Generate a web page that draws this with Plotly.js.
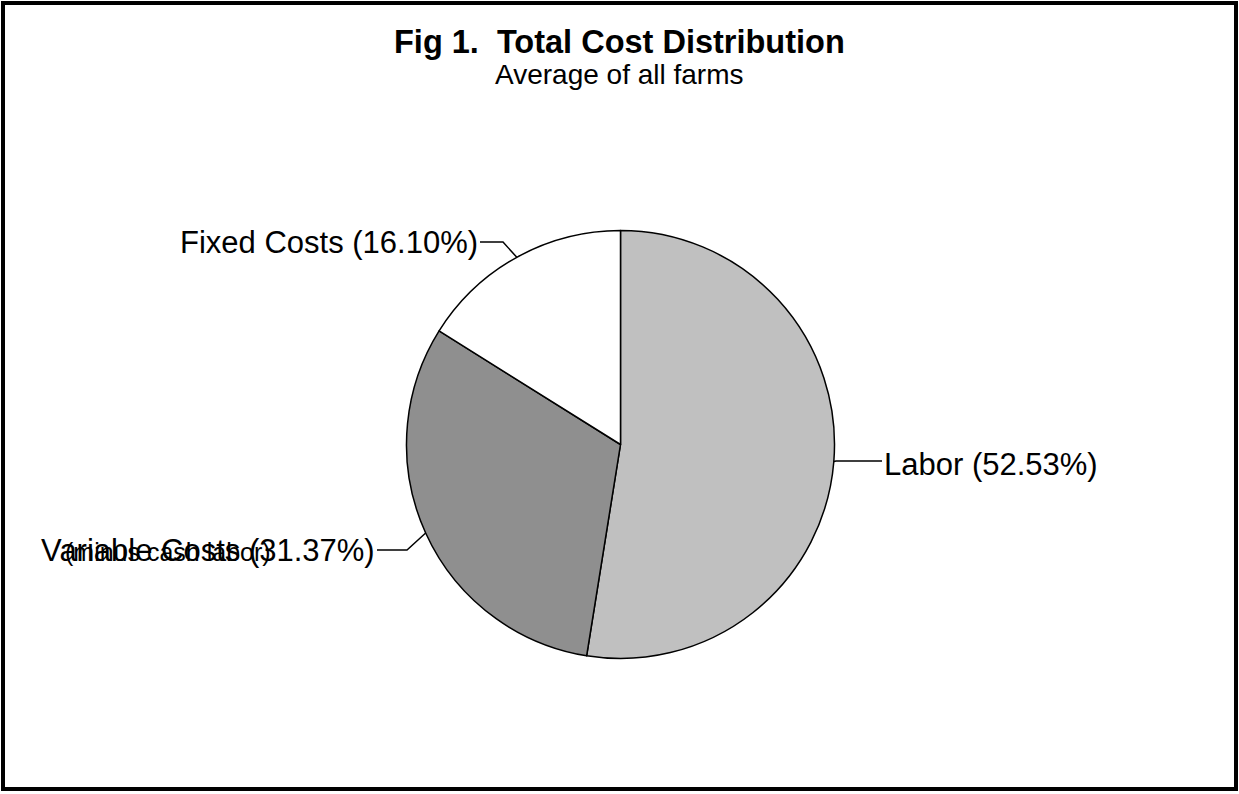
<!DOCTYPE html>
<html>
<head>
<meta charset="utf-8">
<script src="https://cdn.plot.ly/plotly-3.0.1.min.js"></script>
<style>html,body{margin:0;padding:0;background:#fff;}#chart{width:1239px;height:794px;}</style>
</head>
<body>
<div id="chart"></div>
<script>
// ---- data ----
const categories = ['Labor', 'Variable Costs', 'Fixed Costs'];
const values = [52.53, 31.37, 16.10];
const extraNote = '(minus cash labor)';
const titleText = 'Fig 1.&nbsp;&nbsp;Total Cost Distribution';
const subtitleText = 'Average of all farms';

// ---- styles / layout ----
const sliceColors = ['#C0C0C0', '#8F8F8F', '#FFFFFF'];
const W = 1239, H = 794;
const cx = 620.5, cy = 444.5, R = 214;
const FONT = 'Arial, "Liberation Sans", sans-serif';
// label placement: anchor side, label anchor point, elbow point of leader
const labelLayout = [
  {xanchor: 'left',  lx: 882, ly: 464, ex: 836, ey: 461, endx: 882, endy: 461},
  {xanchor: 'right', lx: 377, ly: 550, ex: 407, ey: 550, endx: 377, endy: 550},
  {xanchor: 'right', lx: 480, ly: 243, ex: 503, ey: 242, endx: 480, endy: 242}
];

const px = x => x / W;
const py = y => 1 - y / H;

const total = values.reduce((a, b) => a + b, 0);
const annotations = [];
const shapes = [];
let cum = 0;
values.forEach((v, i) => {
  const mid = (cum + v / 2) / total * 2 * Math.PI;
  cum += v;
  const x0 = cx + R * Math.sin(mid);
  const y0 = cy - R * Math.cos(mid);
  const L = labelLayout[i];
  shapes.push({
    type: 'path', xref: 'paper', yref: 'paper',
    path: `M ${px(x0)},${py(y0)} L ${px(L.ex)},${py(L.ey)} L ${px(L.endx)},${py(L.endy)}`,
    line: {color: '#000', width: 1.5}
  });
  annotations.push({
    xref: 'paper', yref: 'paper', x: px(L.lx), y: py(L.ly),
    xanchor: L.xanchor, yanchor: 'middle', showarrow: false,
    text: `${categories[i]} (${v.toFixed(2)}%)`,
    font: {family: FONT, size: 31, color: '#000'}
  });
});
// overlapping second line of the variable-cost label, as in the original
annotations.push({
  xref: 'paper', yref: 'paper', x: px(63), y: py(552),
  xanchor: 'left', yanchor: 'middle', showarrow: false,
  text: extraNote, font: {family: FONT, size: 25, color: '#000'}
});
annotations.push({
  xref: 'paper', yref: 'paper', x: 0.5, y: py(42),
  xanchor: 'center', yanchor: 'middle', showarrow: false,
  text: '<b>' + titleText + '</b>', font: {family: FONT, size: 32.5, color: '#000'}
});
annotations.push({
  xref: 'paper', yref: 'paper', x: 0.5, y: py(75),
  xanchor: 'center', yanchor: 'middle', showarrow: false,
  text: subtitleText, font: {family: FONT, size: 28, color: '#000'}
});
// outer frame
shapes.push({
  type: 'rect', xref: 'paper', yref: 'paper',
  x0: px(3), x1: px(1236), y0: py(789), y1: py(3),
  line: {color: '#000', width: 4}, fillcolor: 'rgba(0,0,0,0)'
});

const trace = {
  type: 'pie',
  labels: categories,
  values: values,
  sort: false,
  direction: 'clockwise',
  rotation: 0,
  textinfo: 'none',
  hoverinfo: 'none',
  marker: {colors: sliceColors, line: {color: '#000', width: 1.5}},
  domain: {x: [px(cx - R), px(cx + R)], y: [py(cy + R), py(cy - R)]}
};

const layout = {
  width: W, height: H,
  margin: {l: 0, r: 0, t: 0, b: 0},
  paper_bgcolor: '#fff',
  showlegend: false,
  annotations: annotations,
  shapes: shapes
};

Plotly.newPlot('chart', [trace], layout, {staticPlot: true, displayModeBar: false});
</script>
</body>
</html>
